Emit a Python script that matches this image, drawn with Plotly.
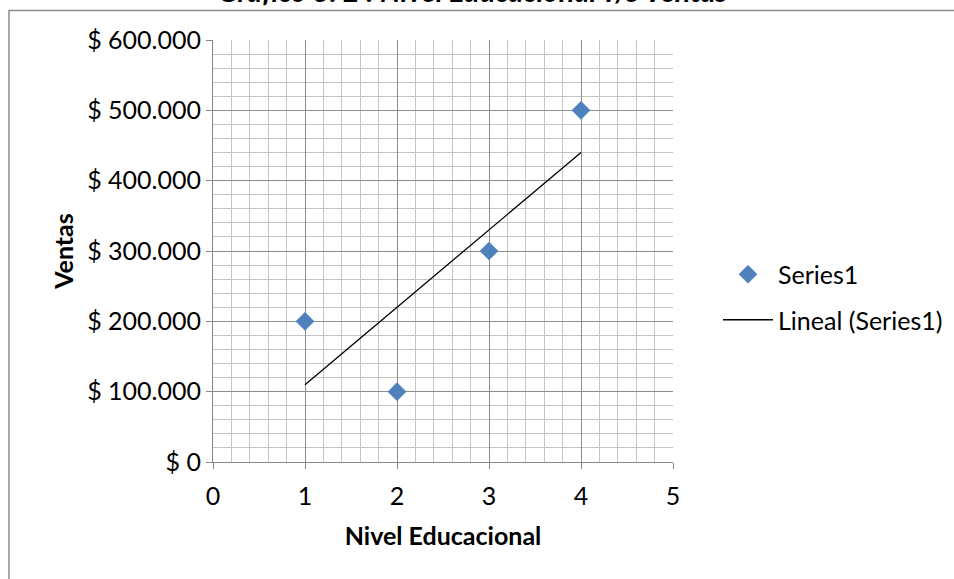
import numpy as np
import plotly.graph_objects as go

# Data
nivel = [1, 2, 3, 4]
ventas = [200000, 100000, 300000, 500000]
y_ticks = [0, 100000, 200000, 300000, 400000, 500000, 600000]
y_tick_labels = ["$ 0", "$ 100.000", "$ 200.000", "$ 300.000", "$ 400.000", "$ 500.000", "$ 600.000"]
x_ticks = [0, 1, 2, 3, 4, 5]

W, H = 954, 579
L, R, T, B = 213, 281, 40, 117
pw, ph = W - L - R, H - T - B

def px_x(px):
    return (px - L) / pw

def px_y(py):
    return (H - B - py) / ph

# Linear trendline (least squares)
slope, intercept = np.polyfit(nivel, ventas, 1)
trend_x = [min(nivel), max(nivel)]
trend_y = [slope * v + intercept for v in trend_x]

FONT = "Lato, Carlito, Calibri, sans-serif"
FS = 25

fig = go.Figure()
fig.add_trace(go.Scatter(
    x=nivel, y=ventas, mode="markers", name="Series1",
    marker=dict(symbol="diamond", size=14, color="#4F81BD",
                line=dict(color="#4A7EBB", width=0.5)),
    legendgroup="a", cliponaxis=False,
))
fig.add_trace(go.Scatter(
    x=trend_x, y=trend_y, mode="lines", name="Lineal (Series1)",
    line=dict(color="black", width=1.3),
    legendgroup="b",
))

fig.update_layout(
    width=W, height=H,
    margin=dict(l=L, r=R, t=T, b=B, pad=0, autoexpand=False),
    paper_bgcolor="white", plot_bgcolor="white",
    font=dict(family=FONT, size=FS, color="black"),
    showlegend=True,
    legend=dict(x=px_x(718), y=px_y(297), xanchor="left", yanchor="middle",
                font=dict(size=FS), tracegroupgap=10, traceorder="grouped",
                bgcolor="rgba(0,0,0,0)", itemwidth=50),
    xaxis=dict(
        range=[0, 5], tickvals=x_ticks, ticks="outside", ticklen=6,
        tickcolor="#868686", showline=True, linecolor="#868686", linewidth=1,
        showgrid=True, gridcolor="#8c8c8c", gridwidth=1, zeroline=False,
        minor=dict(dtick=0.2, showgrid=True, gridcolor="#c4c4c4", gridwidth=1),
        title=dict(text="<b>Nivel Educacional</b>", standoff=18,
                   font=dict(size=FS)),
        tickfont=dict(size=FS), ticklabelstandoff=6, automargin=False,
    ),
    yaxis=dict(
        range=[0, 600000], tickvals=y_ticks, ticktext=y_tick_labels,
        ticks="outside", ticklen=6, tickcolor="#868686",
        showline=True, linecolor="#868686", linewidth=1,
        showgrid=True, gridcolor="#8c8c8c", gridwidth=1, zeroline=False,
        minor=dict(dtick=20000, showgrid=True, gridcolor="#c4c4c4", gridwidth=1),
        title=dict(text="<b>Ventas</b>", standoff=6, font=dict(size=FS)),
        tickfont=dict(size=FS), automargin=False,
    ),
    shapes=[
        # chart frame
        dict(type="rect", xref="paper", yref="paper",
             x0=px_x(9), x1=px_x(965), y0=px_y(590), y1=px_y(10.5),
             line=dict(color="#8c8c8c", width=1.5), fillcolor="rgba(0,0,0,0)",
             layer="below"),
    ],
    annotations=[
        dict(text="<b><i>Gráfico 3. 2 : Nivel Educacional v/s Ventas</i></b>",
             xref="paper", yref="paper", x=px_x(473), y=px_y(10),
             xanchor="center", yanchor="bottom", showarrow=False,
             font=dict(size=29, family=FONT)),
    ],
)

fig.write_html("out.html")
